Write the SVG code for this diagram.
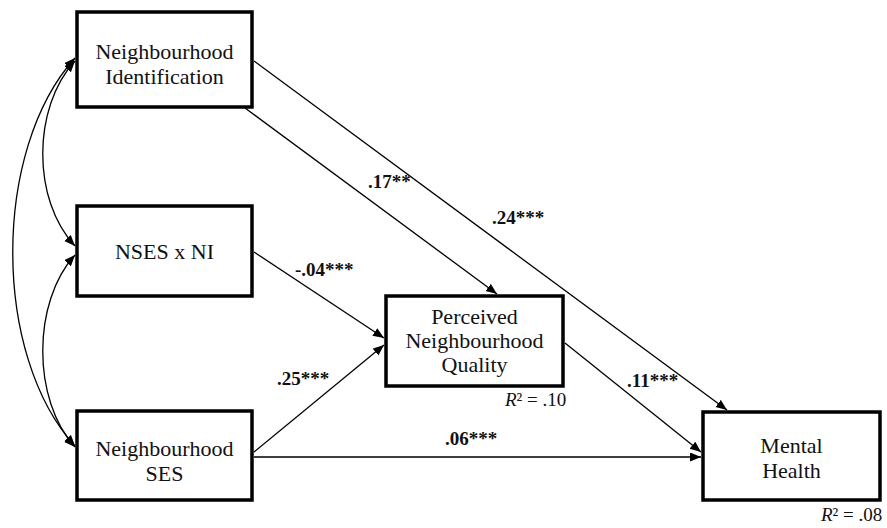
<svg xmlns="http://www.w3.org/2000/svg" width="887" height="528" viewBox="0 0 887 528">
  <defs>
    <marker id="arrow" markerUnits="userSpaceOnUse" markerWidth="12" markerHeight="10" refX="11" refY="4.5" orient="auto-start-reverse">
      <path d="M0,0 L11,4.5 L0,9 z" fill="#000"/>
    </marker>
    <style>
      .box { fill: #fff; stroke: #000; stroke-width: 3.5; }
      .lbl { font-family: "Liberation Serif", "Times New Roman", serif; font-size: 22px; fill: #111; text-anchor: middle; }
      .coef { font-family: "Liberation Serif", "Times New Roman", serif; font-size: 19px; font-weight: bold; fill: #111; }
      .rsq { font-family: "Liberation Serif", "Times New Roman", serif; font-size: 19px; fill: #111; }
      .path { fill: none; stroke: #000; stroke-width: 1.3; marker-end: url(#arrow); }
      .cov { fill: none; stroke: #000; stroke-width: 1.3; marker-start: url(#arrow); marker-end: url(#arrow); }
    </style>
  </defs>
  <rect width="887" height="528" fill="#fff"/>

  <g id="connectors">
    <!-- covariances among predictors -->
    <path class="cov" d="M75,61 C32,108 32,200 75,246"/>
    <path class="cov" d="M75,255 C32,302 32,400 75,447"/>
    <path class="cov" d="M75,58 C-8,150 -8,355 75,446"/>
    <!-- regression paths -->
    <path class="path" d="M245,108 L497,294"/>
    <path class="path" d="M254,61 L727,410"/>
    <path class="path" d="M254,252 L384,338"/>
    <path class="path" d="M254,452 L384,345"/>
    <path class="path" d="M254,457 L701,457"/>
    <path class="path" d="M565,343 L701,452"/>
    <!-- coefficients -->
    <text class="coef" x="368" y="188">.17**</text>
    <text class="coef" x="492" y="224">.24***</text>
    <text class="coef" x="295" y="276">-.04***</text>
    <text class="coef" x="277" y="385">.25***</text>
    <text class="coef" x="445" y="445">.06***</text>
    <text class="coef" x="627" y="387">.11***</text>
  </g>

  <g id="ni">
    <rect class="box" x="77" y="12" width="175" height="95"/>
    <text class="lbl" x="164.5" y="59">Neighbourhood</text>
    <text class="lbl" x="164.5" y="84">Identification</text>
  </g>

  <g id="nses-x-ni">
    <rect class="box" x="77" y="206" width="175" height="90"/>
    <text class="lbl" x="164.5" y="259">NSES x NI</text>
  </g>

  <g id="nses">
    <rect class="box" x="77" y="411" width="175" height="89"/>
    <text class="lbl" x="164.5" y="456">Neighbourhood</text>
    <text class="lbl" x="164.5" y="481">SES</text>
  </g>

  <g id="pnq">
    <rect class="box" x="386" y="296" width="177" height="90"/>
    <text class="lbl" x="474.5" y="324">Perceived</text>
    <text class="lbl" x="474.5" y="348">Neighbourhood</text>
    <text class="lbl" x="474.5" y="372">Quality</text>
    <text class="rsq" x="505" y="406"><tspan font-style="italic">R</tspan>² = .10</text>
  </g>

  <g id="mh">
    <rect class="box" x="703" y="412" width="177" height="88"/>
    <text class="lbl" x="791.5" y="453">Mental</text>
    <text class="lbl" x="791.5" y="478">Health</text>
    <text class="rsq" x="821" y="521"><tspan font-style="italic">R</tspan>² = .08</text>
  </g>
</svg>
